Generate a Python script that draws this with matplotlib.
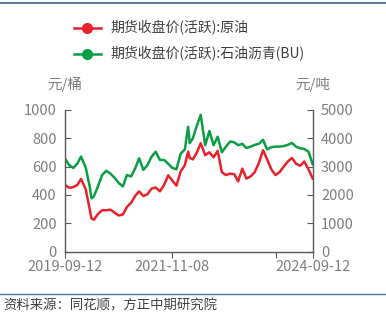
import pandas as pd
import matplotlib
matplotlib.use('Agg')
import matplotlib.pyplot as plt
from matplotlib.lines import Line2D

plt.rcParams['font.family'] = ['Noto Sans CJK SC', 'DejaVu Sans']

dates = ['2019-09-12', '2019-10-12', '2019-11-12', '2019-12-12', '2020-01-08',
         '2020-02-12', '2020-03-12', '2020-03-25', '2020-04-12', '2020-05-12',
         '2020-06-12', '2020-07-12', '2020-08-12', '2020-09-12', '2020-10-12',
         '2020-11-12', '2020-12-12', '2021-01-12', '2021-02-12', '2021-03-12',
         '2021-04-12', '2021-05-12', '2021-06-12', '2021-07-12', '2021-08-12',
         '2021-09-12', '2021-10-12', '2021-11-12', '2021-12-12', '2022-01-12',
         '2022-02-12', '2022-03-08', '2022-03-20', '2022-04-12', '2022-05-12',
         '2022-06-09', '2022-07-12', '2022-08-12', '2022-09-12', '2022-10-12',
         '2022-11-12', '2022-12-12', '2023-01-12', '2023-02-12', '2023-03-12',
         '2023-04-12', '2023-05-12', '2023-06-12', '2023-07-12', '2023-08-12',
         '2023-09-12', '2023-10-12', '2023-11-12', '2023-12-12', '2024-01-12',
         '2024-02-12', '2024-03-12', '2024-04-12', '2024-05-12', '2024-06-12',
         '2024-07-12', '2024-08-12', '2024-09-12']

# 原油 (元/桶), left axis
crude = [470, 450, 455, 470, 512, 440, 300, 235, 225, 265,
         292, 292, 296, 275, 255, 262, 315, 345, 395, 425,
         392, 405, 445, 452, 425, 470, 538, 500, 465, 565,
         610, 705, 660, 650, 700, 764, 680, 700, 665, 710,
         560, 540, 550, 545, 495, 585, 515, 530, 560, 625,
         715, 650, 580, 540, 560, 600, 635, 660, 620, 605,
         635, 580, 515]

# 石油沥青(BU) (元/吨), right axis
bitumen = [3280, 3050, 2950, 3100, 3350, 2960, 2300, 1880, 1950, 2300,
           2700, 2850, 2750, 2600, 2420, 2300, 2700, 2650, 2950, 3290,
           2880, 3050, 3350, 3520, 3230, 3230, 3100, 2950, 2900, 3450,
           3600, 4400, 3820, 3990, 4450, 4817, 3750, 4250, 3750, 4050,
           3500, 3700, 3880, 3850, 3750, 3800, 3650, 3700, 3760, 3800,
           3940, 3600, 3680, 3700, 3700, 3720, 3760, 3830, 3700, 3640,
           3620, 3520, 3080]

xtick_dates = ['2019-09-12', '2021-11-08', '2023-12-17', '2024-09-12']
xtick_labels = ['2019-09-12', '2021-11-08', '', '2024-09-12']

red = '#E8212B'
green = '#0A9E44'
axis_c = '#595959'
label_c = '#7F7F7F'

x = pd.to_datetime(dates)

fig = plt.figure(figsize=(3.86, 3.22), dpi=100)
ax = fig.add_axes([0.1684, 0.2183, 0.6417, 0.441])
ax2 = ax.twinx()

ax.plot(x, crude, color=red, lw=1.8)
ax2.plot(x, bitumen, color=green, lw=1.8)
ax.set_zorder(ax2.get_zorder() + 1)
ax.patch.set_visible(False)

ax.set_xlim(pd.Timestamp('2019-09-12'), pd.Timestamp('2024-09-12'))
ax.set_ylim(0, 1000)
ax2.set_ylim(0, 5000)
ax.set_yticks(range(0, 1001, 200))
ax2.set_yticks(range(0, 5001, 1000))
ax.set_xticks(pd.to_datetime(xtick_dates))
ax.set_xticklabels(xtick_labels)

for a in (ax, ax2):
    for s in a.spines.values():
        s.set_visible(False)
ax.spines['left'].set_visible(True)
ax.spines['bottom'].set_visible(True)
ax2.spines['right'].set_visible(True)
for s in (ax.spines['left'], ax.spines['bottom'], ax2.spines['right']):
    s.set_color(axis_c)
    s.set_linewidth(1.0)

ax.tick_params(axis='y', direction='in', length=4, color=axis_c, labelcolor=label_c, labelsize=10.5, pad=6)
ax2.tick_params(axis='y', direction='in', length=4, color=axis_c, labelcolor=label_c, labelsize=10.5, pad=6)
ax.tick_params(axis='x', direction='out', length=4, color=axis_c, labelcolor=label_c, labelsize=10.5, pad=2)

fig.text(0.168, 0.739, '元/桶', ha='center', va='center', color=label_c, fontsize=10.5)
fig.text(0.810, 0.739, '元/吨', ha='center', va='center', color=label_c, fontsize=10.5)

handles = [Line2D([], [], color=red, lw=1.8, marker='o', markersize=7),
           Line2D([], [], color=green, lw=1.8, marker='o', markersize=7)]
fig.legend(handles, ['期货收盘价(活跃):原油', '期货收盘价(活跃):石油沥青(BU)'],
           loc='upper left', bbox_to_anchor=(0.173, 0.958), frameon=False,
           fontsize=10, handlelength=1.95, handletextpad=0.7, labelspacing=0.8,
           borderpad=0, labelcolor='#404040')

fig.add_artist(Line2D([0, 1], [0.99, 0.99], color='#2F6496', lw=1.2))
fig.add_artist(Line2D([0, 1], [0.088, 0.088], color='#4A7BA6', lw=1.0))
fig.text(0.008, 0.05, '资料来源：同花顺，方正中期研究院', ha='left', va='center',
         color='#404040', fontsize=9.6, style='italic')

fig.savefig('out.png', dpi=100)
